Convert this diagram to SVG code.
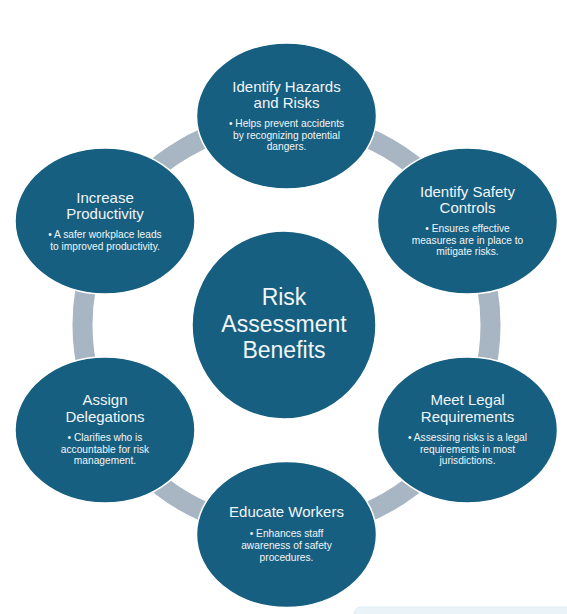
<svg xmlns="http://www.w3.org/2000/svg" width="567" height="614" viewBox="0 0 567 614">
<style>
.ring{fill:none;stroke:#A8B5C2;stroke-width:20}
.node{fill:#165F80;stroke:#FFFFFF;stroke-width:1.5}
.t{font-family:"Liberation Sans",Arial,sans-serif;fill:#F2F5F7;text-anchor:middle}
.h{font-size:15px}
.b{font-size:10.2px}
.c{font-size:23px}
</style>
<rect width="567" height="614" fill="#FFFFFF"/>
<rect x="354" y="607" width="240" height="24" rx="7" fill="#EAF4F8" stroke="#DCEDF3" stroke-width="1"/>
<g id="connectors">
<path class="ring" d="M286.5 121 A204 204 0 0 1 463.17 223"/>
<path class="ring" d="M463.17 223 A204 204 0 0 1 463.17 427"/>
<path class="ring" d="M463.17 427 A204 204 0 0 1 286.5 529"/>
<path class="ring" d="M286.5 529 A204 204 0 0 1 109.83 427"/>
<path class="ring" d="M109.83 427 A204 204 0 0 1 109.83 223"/>
<path class="ring" d="M109.83 223 A204 204 0 0 1 286.5 121"/>
</g>
<g id="center">
<ellipse class="node" cx="284" cy="325" rx="92" ry="94"/>
<text class="t c" x="284" y="305">Risk</text>
<text class="t c" x="284" y="332">Assessment</text>
<text class="t c" x="284" y="358">Benefits</text>
</g>
<g id="identify-hazards">
<ellipse class="node" cx="286.5" cy="116" rx="90" ry="73"/>
<text class="t h" x="286.5" y="92">Identify Hazards</text>
<text class="t h" x="286.5" y="108">and Risks</text>
<text class="t b" x="286.5" y="127">• Helps prevent accidents</text>
<text class="t b" x="286.5" y="139">by recognizing potential</text>
<text class="t b" x="286.5" y="150">dangers.</text>
</g>
<g id="identify-safety-controls">
<ellipse class="node" cx="467.5" cy="221" rx="90" ry="73"/>
<text class="t h" x="467.5" y="197">Identify Safety</text>
<text class="t h" x="467.5" y="213">Controls</text>
<text class="t b" x="467.5" y="232">• Ensures effective</text>
<text class="t b" x="467.5" y="244">measures are in place to</text>
<text class="t b" x="467.5" y="255">mitigate risks.</text>
</g>
<g id="meet-legal-requirements">
<ellipse class="node" cx="467.5" cy="430" rx="90" ry="73"/>
<text class="t h" x="467.5" y="405">Meet Legal</text>
<text class="t h" x="467.5" y="422">Requirements</text>
<text class="t b" x="467.5" y="441">• Assessing risks is a legal</text>
<text class="t b" x="467.5" y="453">requirements in most</text>
<text class="t b" x="467.5" y="464">jurisdictions.</text>
</g>
<g id="educate-workers">
<ellipse class="node" cx="286.5" cy="534.5" rx="90" ry="73"/>
<text class="t h" x="286.5" y="517">Educate Workers</text>
<text class="t b" x="286.5" y="537">• Enhances staff</text>
<text class="t b" x="286.5" y="549">awareness of safety</text>
<text class="t b" x="286.5" y="561">procedures.</text>
</g>
<g id="assign-delegations">
<ellipse class="node" cx="105" cy="430" rx="90" ry="73"/>
<text class="t h" x="105" y="405">Assign</text>
<text class="t h" x="105" y="422">Delegations</text>
<text class="t b" x="105" y="441">• Clarifies who is</text>
<text class="t b" x="105" y="453">accountable for risk</text>
<text class="t b" x="105" y="464">management.</text>
</g>
<g id="increase-productivity">
<ellipse class="node" cx="105" cy="221" rx="90" ry="73"/>
<text class="t h" x="105" y="203">Increase</text>
<text class="t h" x="105" y="219">Productivity</text>
<text class="t b" x="105" y="238">• A safer workplace leads</text>
<text class="t b" x="105" y="250">to improved productivity.</text>
</g>
</svg>
